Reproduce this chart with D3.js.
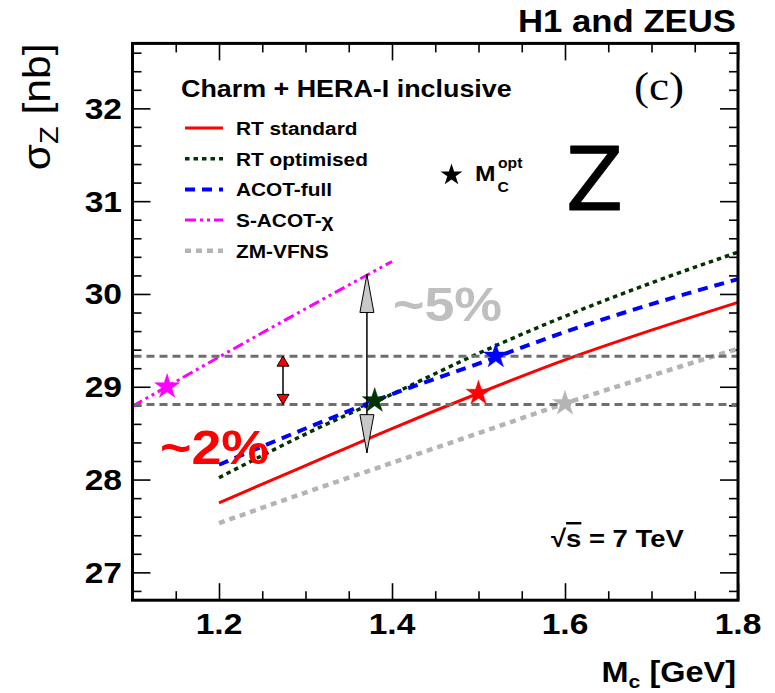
<!DOCTYPE html>
<html>
<head>
<meta charset="utf-8">
<script src="https://cdn.jsdelivr.net/npm/d3@7"></script>
<style>
  html, body { margin: 0; padding: 0; background: #fff; }
  svg { display: block; }
</style>
</head>
<body>
<svg id="chart" width="775" height="693"></svg>
<script>
// Z cross-section at 7 TeV versus the charm-quark mass, per heavy-flavour scheme
const massGrid    = [1.2, 1.3, 1.4, 1.5, 1.6, 1.7, 1.8];
const rtStandard  = [27.75, 28.15, 28.55, 28.93, 29.29, 29.61, 29.91];
const rtOptimised = [28.02, 28.49, 28.92, 29.36, 29.76, 30.12, 30.45];
const acotFull    = [28.16, 28.55, 28.92, 29.25, 29.59, 29.89, 30.16];
const zmVfns      = [27.53, 27.86, 28.18, 28.50, 28.82, 29.12, 29.41];
const sacotGrid   = [1.1, 1.2, 1.3, 1.4];
const sacotChi    = [28.79, 29.32, 29.84, 30.35];

const schemeNames = ["RT standard", "RT optimised", "ACOT-full", "S-ACOT-\u03c7", "ZM-VFNS"];
// optimal charm mass and the cross-section it gives, per scheme
const optMass  = [1.50, 1.38, 1.52, 1.14, 1.60];
const optSigma = [28.93, 28.85, 29.33, 29.00, 28.82];

// spread of the predictions at the optimal masses
const bandLevels = [29.33, 28.81];
const arrowMass  = [1.274, 1.371];
const arrowLow   = [28.81, 28.29];
const arrowHigh  = [29.33, 30.21];

const xTickValues = [1.2, 1.4, 1.6, 1.8];
const yTickValues = [27, 28, 29, 30, 31, 32];

// ---------------------------------------------------------------
const svg = d3.select("#chart");
const SX = 1.12;                       // horizontal stretch of the sans labels
const SANS = "'Liberation Sans', Arial, Helvetica, sans-serif";

const x = d3.scaleLinear().domain([1.1, 1.8]).range([132.5, 738]);
const y = d3.scaleLinear().domain([26.7, 32.7]).range([600.2, 43.4]);
const [x0, x1] = x.range();
const [y0, y1] = y.range();

const styles = [
  { color: "#ff0000", width: 3,   dash: null },
  { color: "#003300", width: 3.5, dash: "4.5,4" },
  { color: "#0000ff", width: 4,   dash: "10,7" },
  { color: "#ff00ff", width: 3,   dash: "11,4,3,4,3,4" },
  { color: "#b4b4b4", width: 4.5, dash: "6,5" }
];

function label(parent, str, px, py, o = {}) {
  const t = parent.append("text")
    .attr("transform", `translate(${px},${py})` + (o.rotate ? ` rotate(${o.rotate})` : "") + ` scale(${o.sx ?? SX},1)`)
    .attr("font-family", o.family ?? SANS)
    .attr("font-size", o.size ?? 20)
    .attr("font-weight", o.weight ?? "bold")
    .attr("text-anchor", o.anchor ?? "start")
    .attr("fill", o.fill ?? "#000");
  if (typeof str === "string") t.text(str);
  else str.forEach(p => {
    const s = t.append("tspan").text(p.t);
    if (p.size) s.attr("font-size", p.size);
    if (p.dy) s.attr("dy", p.dy);
    if (p.dx) s.attr("dx", p.dx);
    if (p.deco) s.attr("text-decoration", p.deco);
  });
  return t;
}

// ---- axes with inward ticks on all four sides
const minorX = d3.range(1.15, 1.8, 0.05).map(v => +v.toFixed(2)).filter(v => !xTickValues.includes(v));
const minorY = d3.range(26.8, 32.7, 0.2).map(v => +v.toFixed(1)).filter(v => !yTickValues.includes(v));

function tickAxis(axisFn, scale, values, size, transform) {
  const g = svg.append("g").attr("transform", transform)
    .call(axisFn(scale).tickValues(values).tickSize(size).tickFormat(""));
  g.select(".domain").remove();
  g.selectAll(".tick line").attr("stroke", "#000").attr("stroke-width", 1.6);
  return g;
}
tickAxis(d3.axisBottom, x, xTickValues, -17, `translate(0,${y0})`);
tickAxis(d3.axisBottom, x, minorX, -9, `translate(0,${y0})`);
tickAxis(d3.axisTop, x, xTickValues, -17, `translate(0,${y1})`);
tickAxis(d3.axisTop, x, minorX, -9, `translate(0,${y1})`);
tickAxis(d3.axisLeft, y, yTickValues, -18, `translate(${x0},0)`);
tickAxis(d3.axisLeft, y, minorY, -9, `translate(${x0},0)`);
tickAxis(d3.axisRight, y, yTickValues, -18, `translate(${x1},0)`);
tickAxis(d3.axisRight, y, minorY, -9, `translate(${x1},0)`);

// tick labels
const xl = svg.append("g");
xTickValues.forEach(v => label(xl, d3.format(".1f")(v), x(v), 633.5, { size: 30, anchor: "middle" }));
const yl = svg.append("g");
yTickValues.forEach(v => label(yl, String(v), 122, y(v) + 10.5, { size: 30, anchor: "end" }));

// axis titles
label(svg, [{ t: "M" }, { t: "c", size: 19, dy: 6 }, { t: " [GeV]", dy: -6 }], 736, 681.5, { size: 29, anchor: "end" });
label(svg, [{ t: "\u03c3" }, { t: "Z", size: 26, dy: 8 }, { t: " [nb]", dy: -8 }], 50, 43.5,
      { size: 38, weight: "normal", anchor: "end", rotate: -90 });

// headline
label(svg, "H1 and ZEUS", 736, 32.3, { size: 31, anchor: "end" });

// ---- curves
const line = d3.line().x(d => x(d[0])).y(d => y(d[1])).curve(d3.curveMonotoneX);
const curves = [
  d3.zip(massGrid, rtStandard),
  d3.zip(massGrid, rtOptimised),
  d3.zip(massGrid, acotFull),
  d3.zip(sacotGrid, sacotChi),
  d3.zip(massGrid, zmVfns)
];
const plot = svg.append("g");
[4, 0, 3, 1, 2].forEach(i => {
  plot.append("path").datum(curves[i]).attr("d", line)
    .attr("fill", "none").attr("stroke", styles[i].color)
    .attr("stroke-width", styles[i].width)
    .attr("stroke-dasharray", styles[i].dash);
});

// horizontal band limits
plot.selectAll("line.band").data(bandLevels).join("line").attr("class", "band")
  .attr("x1", x0 + 1).attr("x2", x1 - 1)
  .attr("y1", d => y(d)).attr("y2", d => y(d))
  .attr("stroke", "#6e6e6e").attr("stroke-width", 3).attr("stroke-dasharray", "8,5");

// optimal-mass stars
const star = d3.symbol().type(d3.symbolStar);
plot.selectAll("path.opt").data(d3.range(optMass.length)).join("path").attr("class", "opt")
  .attr("transform", i => `translate(${x(optMass[i])},${y(optSigma[i])})`)
  .attr("d", star.size(190)())
  .attr("fill", i => i === 1 ? "#003300" : styles[i].color)
  .attr("stroke", i => i === 1 ? "#003300" : styles[i].color)
  .attr("stroke-width", 0.5);

// double-headed arrows marking the spreads
const arrowStyle = [
  { head: 10, half: 6, fill: "#ff0000" },
  { head: 38, half: 7, fill: "#c8c8c8" }
];
arrowMass.forEach((m, i) => {
  const ax = x(m), top = y(arrowHigh[i]), bot = y(arrowLow[i]);
  const s = arrowStyle[i];
  const g = plot.append("g");
  g.append("line").attr("x1", ax).attr("x2", ax).attr("y1", top).attr("y2", bot)
    .attr("stroke", "#000").attr("stroke-width", 1.5);
  g.append("path")
    .attr("d", `M${ax},${top} L${ax - s.half},${top + s.head} L${ax + s.half},${top + s.head} Z`)
    .attr("fill", s.fill).attr("stroke", "#000").attr("stroke-width", 1);
  g.append("path")
    .attr("d", `M${ax},${bot} L${ax - s.half},${bot - s.head} L${ax + s.half},${bot - s.head} Z`)
    .attr("fill", s.fill).attr("stroke", "#000").attr("stroke-width", 1);
});

// plot frame
svg.append("rect")
  .attr("x", x0).attr("y", y1).attr("width", x1 - x0).attr("height", y0 - y1)
  .attr("fill", "none").attr("stroke", "#000").attr("stroke-width", 3);

// ---- legend
const leg = svg.append("g");
label(leg, "Charm + HERA-I inclusive", 181, 96.5, { size: 24 });
schemeNames.forEach((name, i) => {
  const cy = 128 + i * 30.7;
  leg.append("line").attr("x1", 185).attr("x2", 223).attr("y1", cy).attr("y2", cy)
    .attr("stroke", styles[i].color).attr("stroke-width", styles[i].width)
    .attr("stroke-dasharray", styles[i].dash);
  label(leg, name, 236, cy + 6.8, { size: 18.6 });
});
leg.append("path").attr("transform", "translate(451.5,175)").attr("d", star.size(150)()).attr("fill", "#000");
label(leg, "M", 475, 180.5, { size: 22 });
label(leg, "C", 497.5, 191.5, { size: 14 });
label(leg, "opt", 498, 168, { size: 14 });

// panel annotations
label(svg, "(c)", 634, 100, { size: 41, weight: "normal", family: "'Liberation Serif', 'Times New Roman', serif", sx: 1.1 });
label(svg, "Z", 566, 210, { size: 88, weight: "normal", family: "'DejaVu Sans', sans-serif", sx: 0.95 })
  .attr("stroke", "#000").attr("stroke-width", 0.8).attr("stroke-linejoin", "round");
label(svg, "~5%", 393, 320.5, { size: 48, fill: "#bfbfbf" });
label(svg, "~2%", 160, 464, { size: 48, fill: "#ff0000" });
label(svg, [{ t: "\u221a" }, { t: "s", deco: "overline" }, { t: " = 7 TeV" }], 551, 546.5, { size: 24.5 });
</script>
</body>
</html>
